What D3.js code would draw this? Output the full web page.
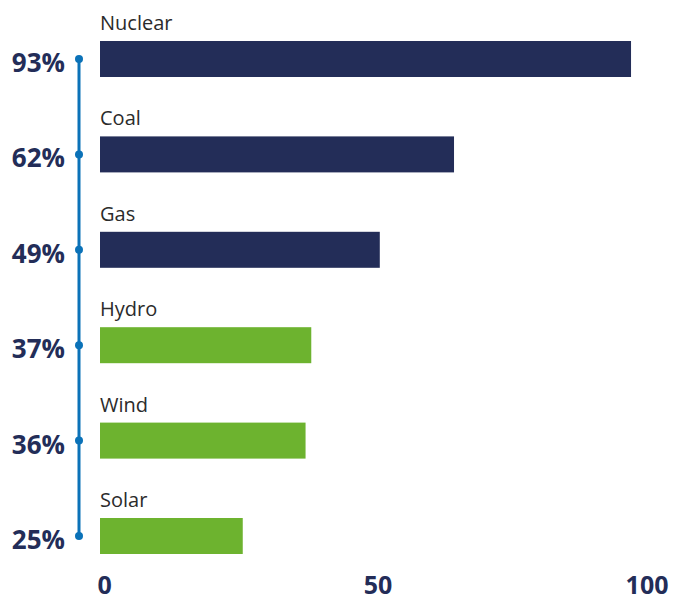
<!DOCTYPE html>
<html lang="en">
<head>
<meta charset="utf-8">
<title>Capacity factor by source</title>
<script src="https://d3js.org/d3.v7.min.js"></script>
<style>
  body { margin: 0; background: #fff; }
  .cat { font: 20px "Open Sans", sans-serif; fill: #2b2b2b; }
  .pct { font: bold 26px "Open Sans", sans-serif; fill: #232d58; }
  .axis text { font: bold 25px "Open Sans", sans-serif; fill: #232d58; }
</style>
</head>
<body>
<script>
// data
var sources = ["Nuclear", "Coal", "Gas", "Hydro", "Wind", "Solar"];
var capacity = [93, 62, 49, 37, 36, 25];
var groups = ["fossil", "fossil", "fossil", "renewable", "renewable", "renewable"];
var tickValues = [0, 50, 100];

var width = 674, height = 601;
var navy = "#232d58", green = "#6db32f", blue = "#0b72b8";

var svg = d3.select("body").append("svg")
  .attr("width", width)
  .attr("height", height);

var x = d3.scaleLinear().domain([0, 100]).range([100, 671]);
var y = d3.scaleBand().domain(sources).range([41, 41 + 6 * 95.4]);
var barH = 36;

var rows = sources.map(function(s, i) {
  return { name: s, value: capacity[i], group: groups[i] };
});

// timeline line on the left
svg.append("line")
  .attr("x1", 79).attr("x2", 79)
  .attr("y1", y(sources[0]) + barH / 2)
  .attr("y2", y(sources[sources.length - 1]) + barH / 2)
  .attr("stroke", blue)
  .attr("stroke-width", 3);

var row = svg.selectAll("g.row")
  .data(rows)
  .enter().append("g")
  .attr("class", "row")
  .attr("transform", d => "translate(0," + y(d.name) + ")");

row.append("rect")
  .attr("x", x(0))
  .attr("y", 0)
  .attr("width", d => x(d.value) - x(0))
  .attr("height", barH)
  .attr("fill", d => d.group == "fossil" ? navy : green);

row.append("text")
  .attr("class", "cat")
  .attr("x", x(0))
  .attr("y", -11)
  .text(d => d.name);

row.append("circle")
  .attr("cx", 79)
  .attr("cy", barH / 2)
  .attr("r", 4)
  .attr("fill", blue);

row.append("text")
  .attr("class", "pct")
  .attr("x", 65)
  .attr("y", barH / 2 + 13)
  .attr("text-anchor", "end")
  .text(d => d.value + "%");

// bottom axis, labels only
var axis = svg.append("g")
  .attr("class", "axis")
  .attr("transform", "translate(0,594)")
  .call(d3.axisBottom(x).tickValues(tickValues).tickSize(0).tickFormat(d3.format("d")));

axis.select(".domain").remove();
axis.selectAll("text")
  .attr("y", 0)
  .attr("dy", 0)
  .attr("dx", (d, i) => i == 0 || i == tickValues.length - 1 ? -3 : -8)
  .attr("text-anchor", (d, i) => i == 0 ? "start" : (i == tickValues.length - 1 ? "end" : "middle"));
</script>
</body>
</html>
